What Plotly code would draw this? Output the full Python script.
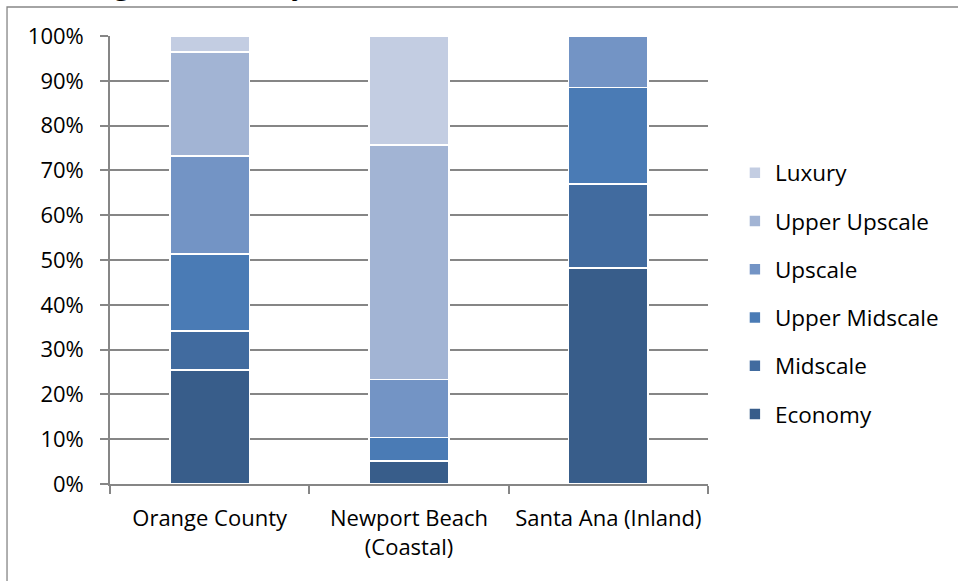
import plotly.graph_objects as go

# Hotel room supply by chain scale, share of rooms (%)
areas = ["Orange County", "Newport Beach<br>(Coastal)", "Santa Ana (Inland)"]
segments = ["Economy", "Midscale", "Upper Midscale", "Upscale", "Upper Upscale", "Luxury"]

economy = [25.4, 5.2, 48.2]
midscale = [8.8, 0.0, 18.7]
upper_midscale = [17.1, 5.2, 21.6]
upscale = [21.9, 12.9, 11.5]
upper_upscale = [23.2, 52.4, 0.0]
luxury = [3.6, 24.3, 0.0]

series = [economy, midscale, upper_midscale, upscale, upper_upscale, luxury]
colors = ["#385D8A", "#416B9F", "#4A7BB5", "#7394C5", "#A2B4D4", "#C3CDE2"]

y_ticks = list(range(0, 101, 10))
y_tick_labels = [f"{v}%" for v in y_ticks]

FONT = "Open Sans"
GRID = "#868686"

fig = go.Figure()
n = len(segments)
for i, (name, vals, col) in enumerate(zip(segments, series, colors)):
    fig.add_trace(go.Bar(
        x=areas, y=vals, name=name, legendgroup=name,
        legendrank=n - i,  # top segment listed first
        marker=dict(color=col, line=dict(color="white", width=1.6)),
    ))

fig.update_layout(
    width=958, height=581,
    margin=dict(l=110, r=250, t=36, b=97),
    paper_bgcolor="white", plot_bgcolor="white",
    barmode="stack", bargap=0.6,
    font=dict(family=FONT, size=22, color="black"),
    showlegend=True,
    legend=dict(
        x=1.045, xanchor="left", y=0.742, yanchor="top",
        traceorder="grouped", tracegroupgap=16,
        font=dict(family=FONT, size=22.5, color="black"),
        bgcolor="rgba(0,0,0,0)",
    ),
    xaxis=dict(
        type="category", range=[-0.5, 2.5],
        showline=True, linecolor=GRID, linewidth=1.6,
        ticks="outside", tickson="boundaries", ticklen=8,
        tickcolor=GRID, tickwidth=1.6,
        showgrid=False, zeroline=False, ticklabelstandoff=14,
        tickfont=dict(family=FONT, size=22),
    ),
    yaxis=dict(
        range=[0, 100], tickvals=y_ticks, ticktext=y_tick_labels,
        showline=True, linecolor=GRID, linewidth=1.6,
        ticks="outside", ticklen=8, tickcolor=GRID, tickwidth=1.6,
        showgrid=True, gridcolor=GRID, gridwidth=1.6,
        zeroline=False, ticklabelstandoff=12,
        tickfont=dict(family=FONT, size=22),
    ),
    shapes=[
        # outer chart frame
        dict(type="rect", xref="paper", yref="paper",
             x0=-0.1722, x1=2.0, y0=-0.5, y1=1.0647,
             line=dict(color=GRID, width=1.3), fillcolor="rgba(0,0,0,0)",
             layer="below"),
    ],
    annotations=[
        dict(text="Segmentation by Area", xref="paper", yref="paper",
             x=-0.0552, y=1.0742, xanchor="left", yanchor="bottom",
             showarrow=False,
             font=dict(family="Liberation Serif", size=34, color="black")),
    ],
)

fig.write_html("out.html")
